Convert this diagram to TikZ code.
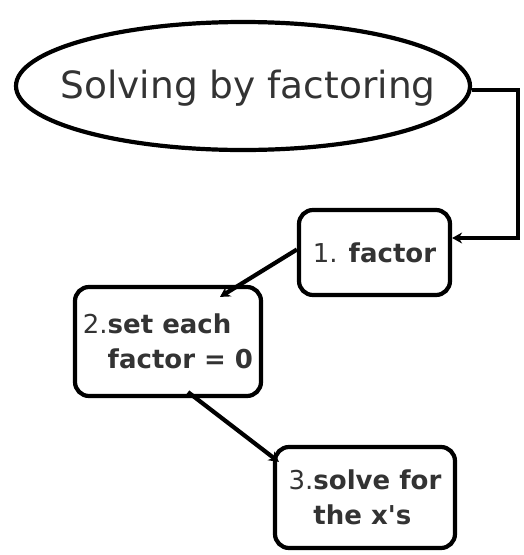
\documentclass[tikz,border=0pt]{standalone}
\usepackage{fontspec}
\setmainfont{DejaVu Sans}
\usepackage{tikz}
\usepackage{xcolor}
\usetikzlibrary{arrows.meta,calc,positioning,shapes.geometric}
\definecolor{txtgray}{RGB}{51,51,51}

\begin{document}
\begin{tikzpicture}[x=1pt,y=-1pt,>=Stealth,
  stepbox/.style={draw,line width=4.2pt,rounded corners=14pt,text=txtgray,
    font=\fontsize{26}{35}\selectfont,align=left,inner sep=0pt},
  link/.style={line width=4.2pt,-{Stealth[length=10pt,width=11pt]}}]
  \useasboundingbox (0,0) rectangle (523,555);
  \node[ellipse,draw,line width=4.2pt,minimum width=454pt,minimum height=128pt] (title) at (243,86) {};
  \node[text=txtgray,font=\fontsize{37.5}{40}\selectfont] (titletext) at (248,88) {Solving by factoring};
  \node[stepbox,minimum width=151pt,minimum height=85pt] (box1) at (374.5,252.5)
    {1. \textbf{factor}};
  \node[stepbox,minimum width=186pt,minimum height=109pt] (box2) at (168,341.5)
    {2.\textbf{set each}\\\phantom{2.}\textbf{factor = 0}};
  \node[stepbox,minimum width=180pt,minimum height=101pt] (box3) at (365,497.5)
    {3.\textbf{solve for}\\\phantom{3.}\textbf{the x\textquotesingle s}};
  \coordinate (bend) at (518,238);
  \draw[link] ($(title.east)+(0,4)$) -| (bend) -- (box1.east |- bend);
  \draw[link] ($(box1.west)+(0,-3)$) -- ($(box2.north)+(52,12)$);
  \draw[link] ($(box2.south)+(20,-6)$) -- ($(box3.north west)+(6,17)$);
\end{tikzpicture}
\end{document}
